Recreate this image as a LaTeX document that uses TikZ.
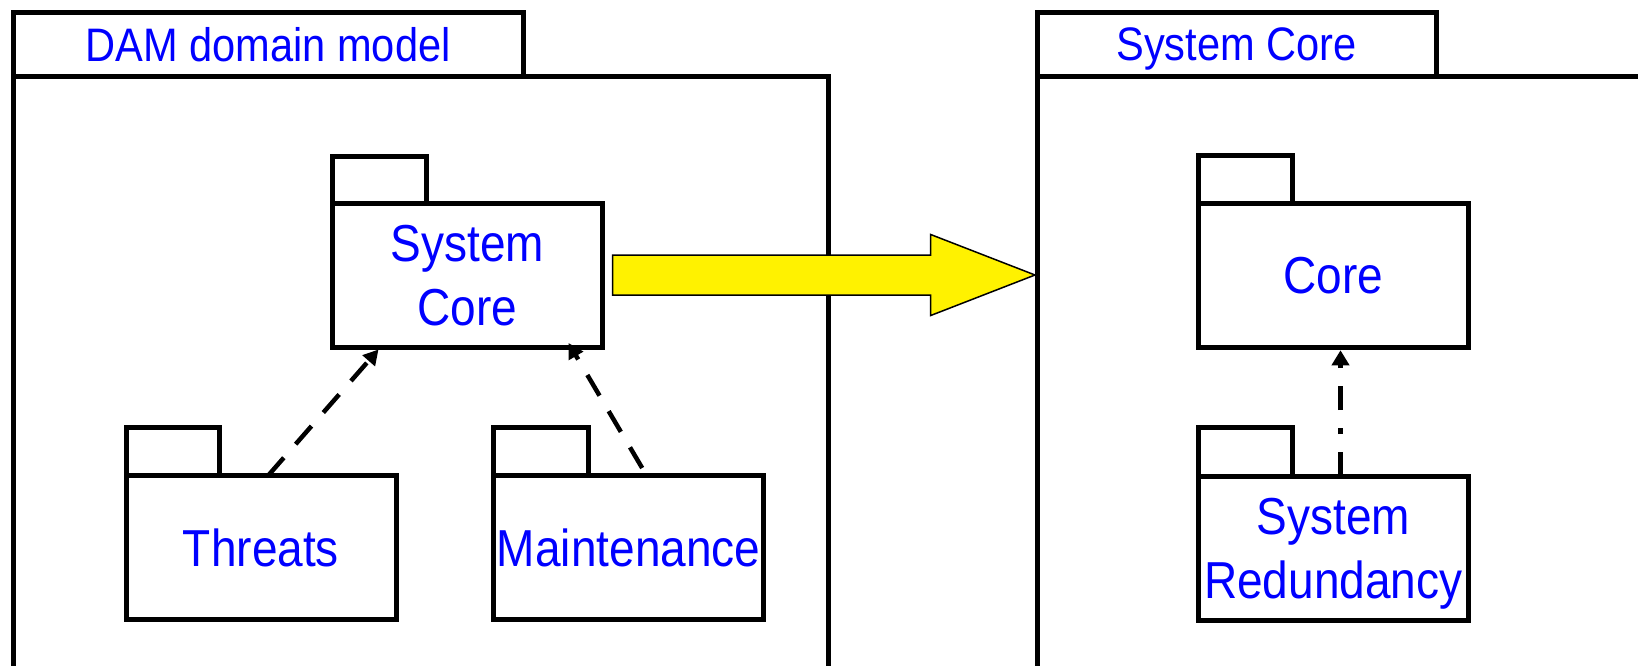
\documentclass[tikz,border=0pt]{standalone}
\usepackage{fontspec}
\setmainfont{Liberation Sans}[FakeStretch=0.885]
\usetikzlibrary{arrows.meta,calc}
\definecolor{labelblue}{RGB}{0,0,255}

\begin{document}
\begin{tikzpicture}[x=1pt,y=-1pt,
  pkg/.style={draw=black, line width=5pt, fill=white, inner sep=0pt, outer sep=0pt,
    align=center, text=labelblue, text depth=0pt},
  pkgbody/.style={pkg, minimum width=270pt, minimum height=144pt,
    font=\fontsize{52}{64}\selectfont},
  outerbody/.style={pkg, minimum height=644pt},
  outertab/.style={pkg, minimum height=63.5pt, font=\fontsize{47}{56}\selectfont},
  tabline/.style={draw=black, line width=5pt, fill=white},
  dep/.style={line width=4.5pt, dash pattern=on 24pt off 18pt,
    -{Triangle[length=15pt,width=16pt]}},
  refine/.style={line width=4.5pt, dash pattern=on 24pt off 18pt on 6pt off 18pt,
    -{Triangle[length=15pt,width=17pt]}},
  bigarrow/.style={draw=black, line width=1.5pt, fill=yellow, line join=miter}
]
\useasboundingbox (0,0) rectangle (1638,665);
\clip (0,0) rectangle (1638,665);

% outer package: DAM domain model
\node[outerbody, minimum width=815.5pt] (dambody) at (420.75,398) {};
\node[outertab, minimum width=510pt] (damtab) at (268,44.25) {DAM domain model};

% outer package: System Core
\node[outerbody, minimum width=663pt] (sysbody) at (1368.5,398) {};
\node[outertab, minimum width=399pt] (systab) at (1236.5,44.25) {System Core};

% packages inside DAM domain model
\node[pkgbody] (sc) at (467.5,275) {System\\Core};
\draw[tabline] (sc.north west) rectangle ++(94,-47);
\node[pkgbody] (thr) at (261,547.75) {Threats};
\draw[tabline] (thr.north west) rectangle ++(93,-48);
\node[pkgbody] (mnt) at (628.75,547.75) {Maintenance};
\draw[tabline] (mnt.north west) rectangle ++(94.5,-48);

% packages inside System Core
\node[pkgbody] (core) at (1333.25,275.75) {Core};
\draw[tabline] (core.north west) rectangle ++(94,-48);
\node[pkgbody] (red) at (1333.25,548) {System\\Redundancy};
\draw[tabline] (red.north west) rectangle ++(94,-48.5);

% dependencies
\draw[dep] ([xshift=7pt]thr.north) -- ([xshift=-89pt,yshift=-2.5pt]sc.south);
\draw[dep, dash phase=33pt] ([xshift=18pt]mnt.north) -- ([xshift=101pt,yshift=4pt]sc.south);
\draw[refine] ([xshift=7.25pt]red.north) -- ([xshift=7.25pt,yshift=-2.5pt]core.south);

% refinement arrow from System Core to its own package
\draw[bigarrow] let \p1=([xshift=10pt]sc.east), \p2=(sc.east -| sysbody.west) in
  (\x1,\y1+20pt) -- (\x2-106.3pt,\y1+20pt) -- (\x2-106.3pt,\y1+40.5pt)
  -- (\x2-2pt,\y1) -- (\x2-106.3pt,\y1-40.5pt) -- (\x2-106.3pt,\y1-20pt)
  -- (\x1,\y1-20pt) -- cycle;
\end{tikzpicture}
\end{document}
